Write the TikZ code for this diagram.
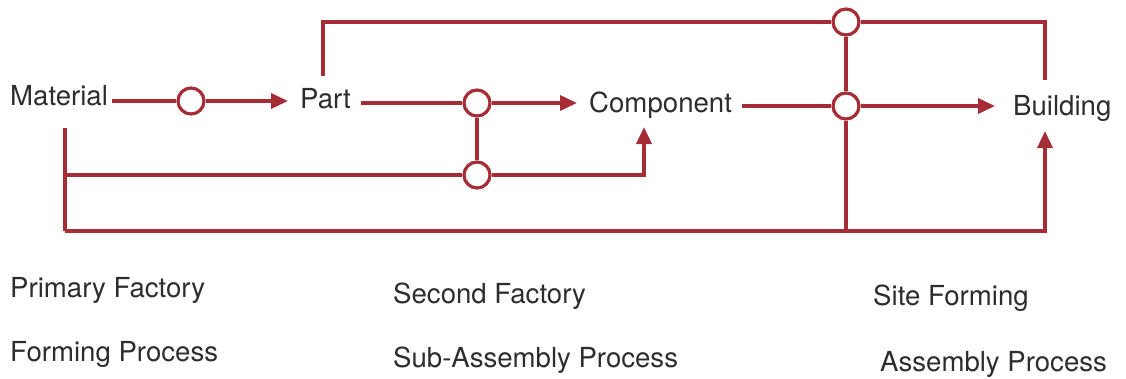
\documentclass[tikz,border=0pt]{standalone}
\usepackage{fontspec}
\setmainfont{TeX Gyre Heros}
\usetikzlibrary{arrows.meta}
\definecolor{flow}{RGB}{166,44,54}
\definecolor{txt}{RGB}{45,45,45}
\begin{document}
\begin{tikzpicture}[x=1pt,y=-1pt,
  lbl/.style={anchor=base west,inner sep=0pt,text=txt,font=\fontsize{27.6}{31}\selectfont},
  joint/.style={circle,draw=flow,line width=3.2pt,fill=white,minimum size=26pt,inner sep=0pt},
  flowline/.style={draw=flow,line width=3.6pt},
  arr/.style={flowline,-{Triangle[length=17pt,width=15pt]}}]
\useasboundingbox (0,0) rectangle (1126,378);
% labels
\node[lbl] (mat) at (10,105) {Material};
\node[lbl] (part) at (300,108) {Part};
\node[lbl] (comp) at (589,112) {Component};
\node[lbl] (bld) at (1013,115) {Building};
\node[lbl] (pf) at (10,297) {Primary Factory};
\node[lbl] (fp) at (10,361) {Forming Process};
\node[lbl] (sf) at (393,303) {Second Factory};
\node[lbl] (sap) at (393,367) {Sub-Assembly Process};
\node[lbl] (stf) at (873,305) {Site Forming};
\node[lbl] (ap) at (880,371) {Assembly Process};
% coordinates
\coordinate (matR) at (112,101);
\coordinate (partL) at (288,101);
\coordinate (partR) at (361,103);
\coordinate (partT) at (323,76);
\coordinate (compL) at (577,103);
\coordinate (compR) at (742,106);
\coordinate (compB) at (644,127);
\coordinate (bldL) at (995,106);
\coordinate (bldT) at (1045,80);
\coordinate (bldB) at (1045,131);
\coordinate (matB) at (65,128);
\coordinate (matM) at (65,175);
\coordinate (matD) at (65,231);
\coordinate (botJ) at (846,231);
% joints
\node[joint] (j1) at (191,101) {};
\node[joint] (j2) at (477,103) {};
\node[joint] (j3) at (477,175) {};
\node[joint] (j4) at (846,22) {};
\node[joint] (j5) at (846,106) {};
% connectors
\draw[flowline] (matR) -- (j1);
\draw[arr] (j1) -- (partL);
\draw[flowline] (partR) -- (j2);
\draw[arr] (j2) -- (compL);
\draw[flowline] (j2) -- (j3);
\draw[flowline] (compR) -- (j5);
\draw[arr] (j5) -- (bldL);
\draw[flowline] (j4) -- (j5);
\draw[flowline] (partT) |- (j4);
\draw[flowline] (j4) -| (bldT);
\draw[flowline] (matB) -- (matD);
\draw[flowline] (matM) -- (j3);
\draw[arr] (j3) -| (compB);
\draw[flowline] (j5) -- (botJ);
\draw[arr] (matD) -| (bldB);
\end{tikzpicture}
\end{document}
